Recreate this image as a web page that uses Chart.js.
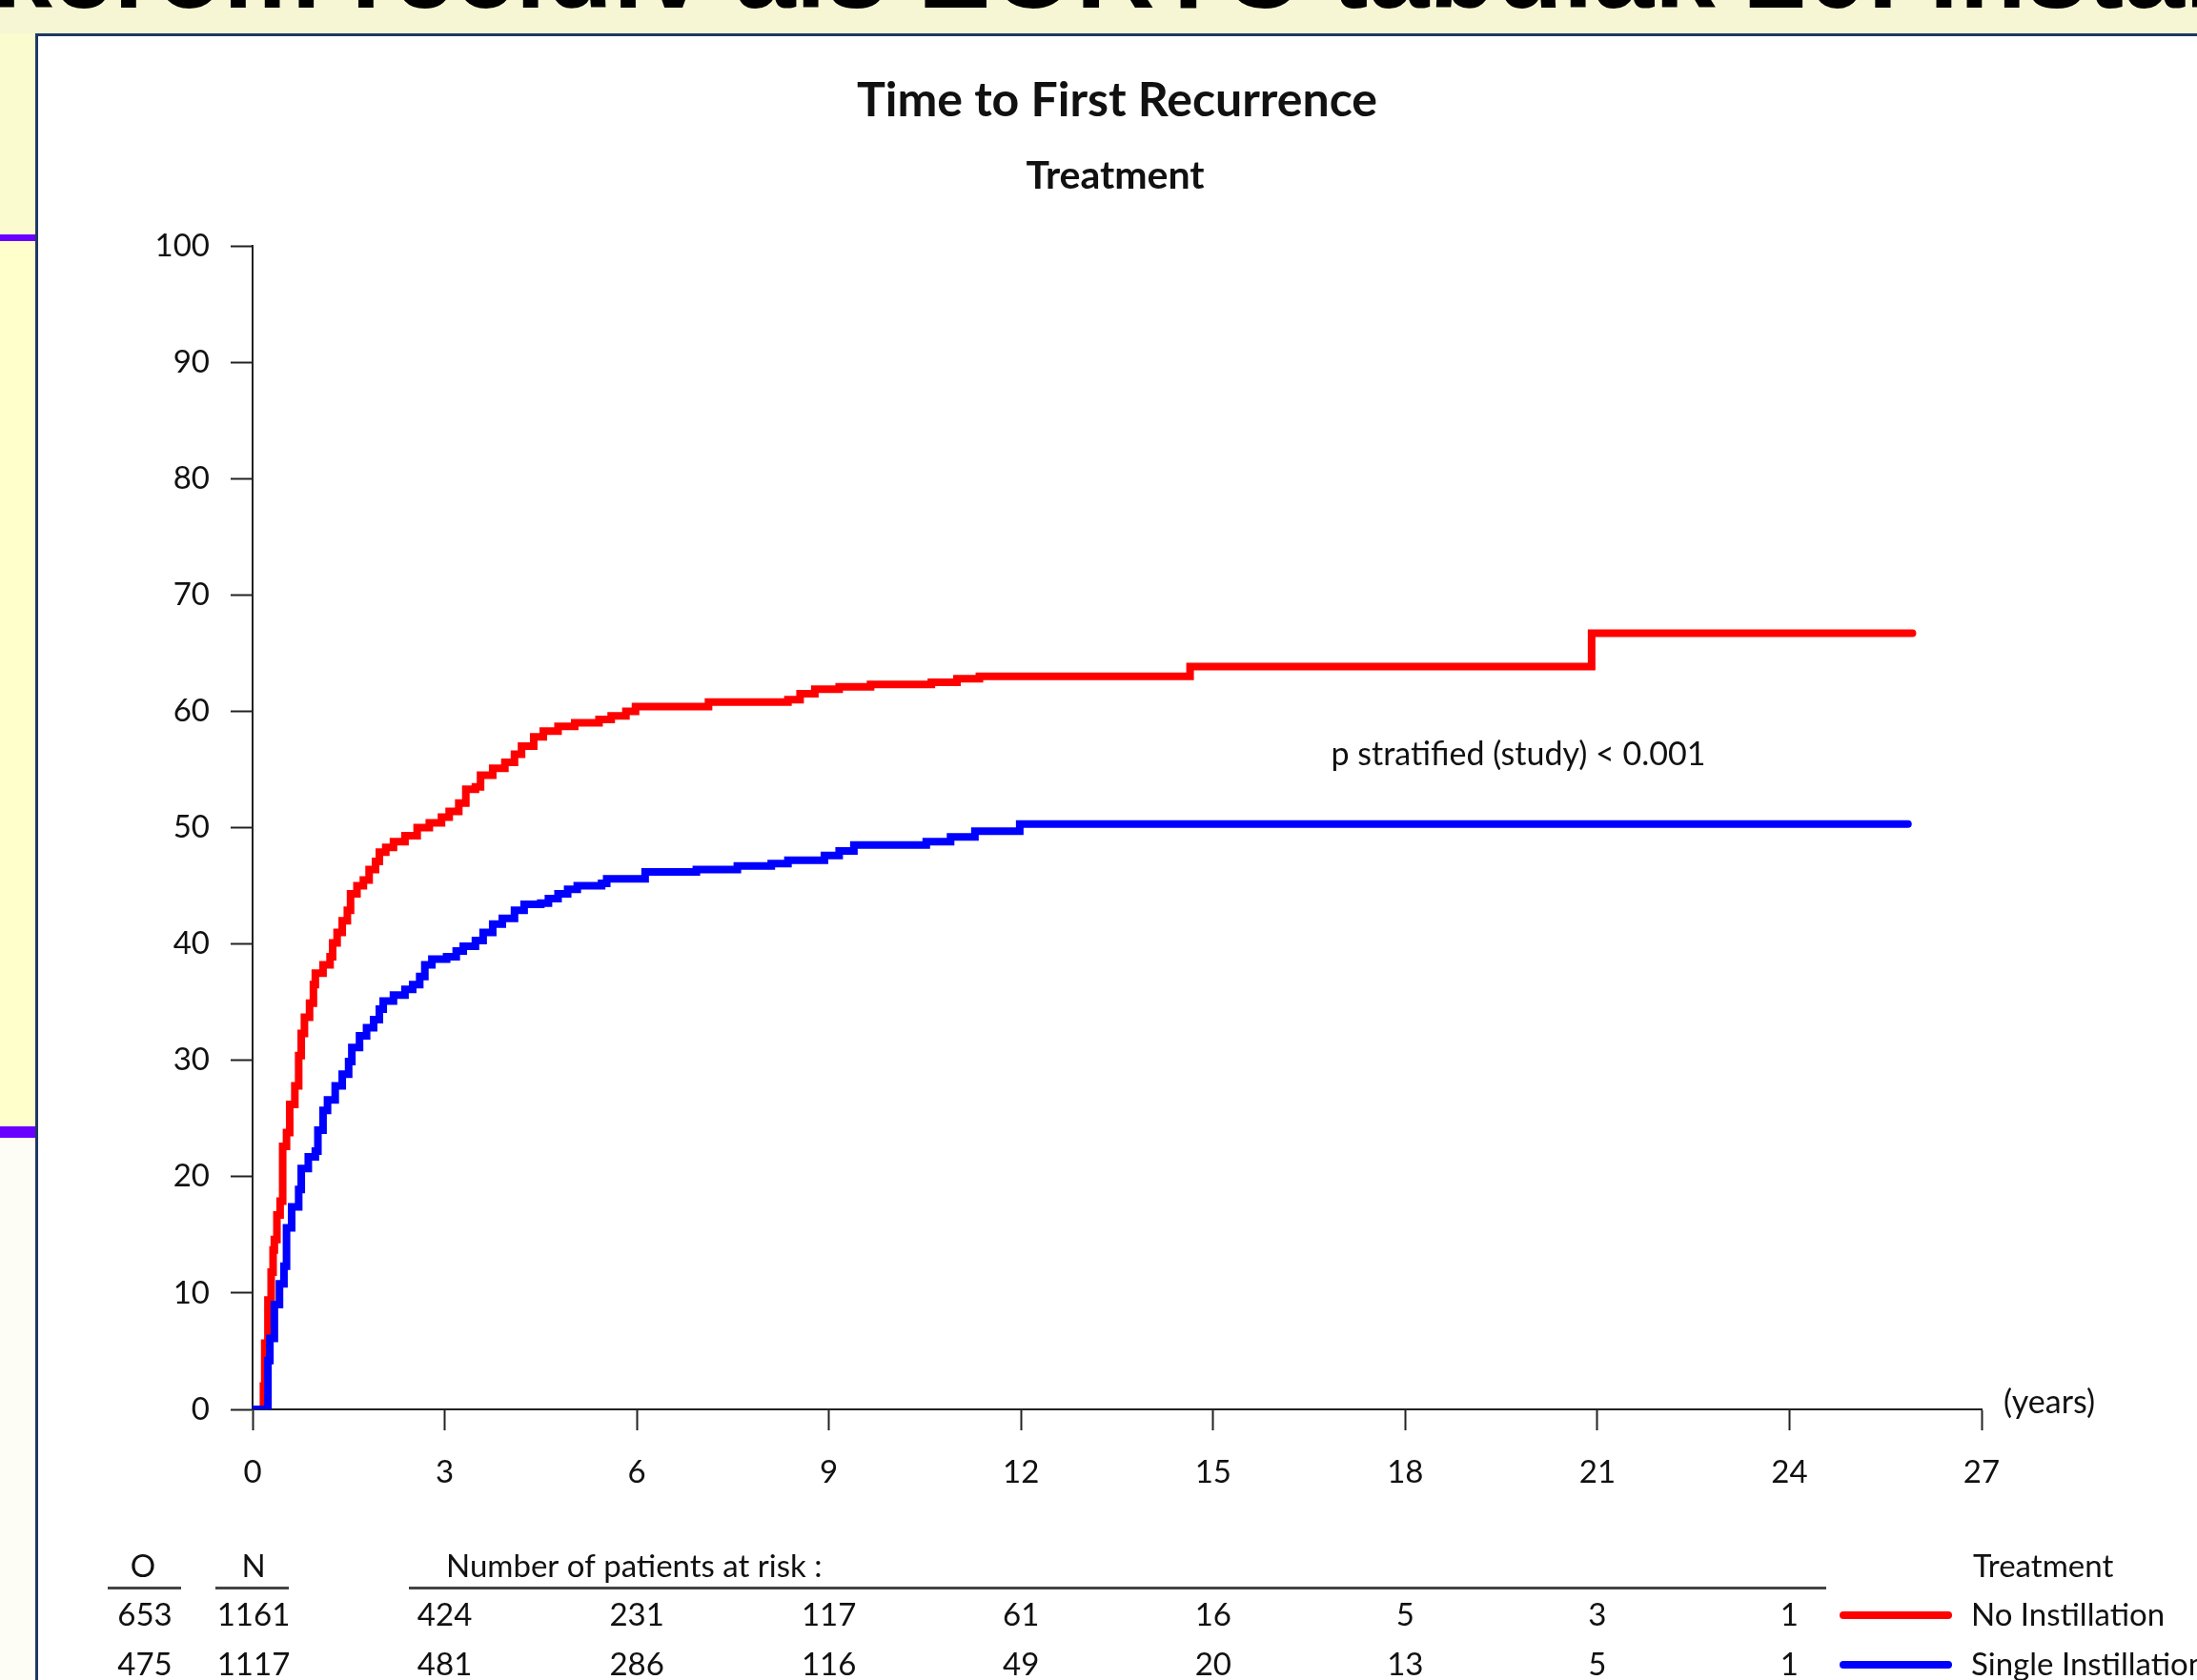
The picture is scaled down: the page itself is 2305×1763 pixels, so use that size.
<!DOCTYPE html>
<html>
<head>
<meta charset="utf-8">
<title>Time to First Recurrence</title>
<script src="https://cdn.jsdelivr.net/npm/chart.js@4.4.1/dist/chart.umd.min.js"></script>
<style>
  html, body { margin: 0; padding: 0; }
  body {
    width: 2305px; height: 1763px; overflow: hidden; position: relative;
    background: #f6f6d4; font-family: Lato, sans-serif;
  }
  .strip { position: absolute; left: 0; width: 37px; }
  #panel {
    position: absolute; left: 37px; top: 35px; width: 2400px; height: 1800px;
    background: #fff; border-left: 3px solid #1f3864; border-top: 3px solid #1f3864;
  }
  #kmChart { position: absolute; left: 0; top: 0; }
</style>
</head>
<body>
<div class="strip" style="top:35px;height:211px;background:#fbfbd0"></div>
<div class="strip" style="top:246px;height:7px;background:#6a00ff"></div>
<div class="strip" style="top:253px;height:929px;background:#ffffcc"></div>
<div class="strip" style="top:1182px;height:12px;background:#6a00ff"></div>
<div class="strip" style="top:1194px;height:569px;background:#fdfdf6"></div>
<div id="panel"></div>
<canvas id="kmChart" width="2305" height="1763"></canvas>
<script>
// Cumulative recurrence (%), years of follow-up
const noInstYears = [0, 0.17, 0.19, 0.24, 0.29, 0.32, 0.34, 0.38, 0.43, 0.47, 0.53, 0.58, 0.66, 0.72, 0.76, 0.81,
  0.89, 0.95, 0.98, 1.10, 1.21, 1.25, 1.32, 1.40, 1.48, 1.53, 1.63, 1.73, 1.82, 1.92, 1.98, 2.08, 2.20, 2.38,
  2.57, 2.76, 2.95, 3.07, 3.22, 3.33, 3.48, 3.56, 3.75, 3.94, 4.09, 4.20, 4.39, 4.54, 4.77, 5.03, 5.41, 5.60,
  5.83, 5.98, 7.12, 8.36, 8.55, 8.78, 9.16, 9.65, 10.6, 11.0, 11.35, 14.64, 20.91, 25.92];
const noInstPct = [0, 2.0, 5.7, 9.4, 11.8, 13.7, 14.6, 16.7, 17.9, 22.6, 23.8, 26.2, 27.8, 30.4, 32.3, 33.7,
  34.9, 36.5, 37.5, 38.2, 38.9, 40.1, 41.0, 42.0, 42.9, 44.3, 45.0, 45.5, 46.4, 47.1, 47.9, 48.3, 48.8, 49.3,
  50.0, 50.4, 50.9, 51.4, 52.1, 53.3, 53.5, 54.5, 55.1, 55.6, 56.3, 57.0, 57.8, 58.3, 58.7, 59.0, 59.3, 59.6,
  60.0, 60.4, 60.8, 61.0, 61.5, 61.9, 62.1, 62.3, 62.5, 62.8, 63.0, 63.85, 66.7, 66.7];

const singleInstYears = [0, 0.23, 0.24, 0.27, 0.34, 0.42, 0.49, 0.53, 0.61, 0.72, 0.76, 0.87, 0.98, 1.02, 1.10,
  1.17, 1.29, 1.40, 1.50, 1.55, 1.67, 1.78, 1.89, 1.98, 2.04, 2.20, 2.38, 2.50, 2.61, 2.69, 2.80, 3.03, 3.18,
  3.29, 3.48, 3.60, 3.75, 3.90, 4.09, 4.24, 4.50, 4.62, 4.77, 4.92, 5.07, 5.45, 5.53, 6.13, 6.93, 7.57, 8.10,
  8.36, 8.93, 9.16, 9.39, 10.52, 10.9, 11.28, 11.98, 25.85];
const singleInstPct = [0, 0, 4.2, 6.1, 9.0, 10.8, 12.3, 15.6, 17.4, 18.9, 20.7, 21.7, 22.2, 24.0, 25.7,
  26.6, 27.8, 28.8, 29.9, 31.1, 32.1, 32.8, 33.5, 34.4, 35.1, 35.6, 36.1, 36.5, 37.2, 38.2, 38.7, 38.9, 39.4,
  39.8, 40.3, 41.0, 41.7, 42.2, 42.9, 43.4, 43.5, 43.9, 44.3, 44.7, 45.0, 45.2, 45.6, 46.2, 46.4, 46.7, 46.9,
  47.2, 47.6, 48.0, 48.5, 48.8, 49.2, 49.7, 50.3, 50.3];

// Number at risk table
const groupNames = ['No Instillation', 'Single Instillation'];
const observed = [653, 475];
const totalN = [1161, 1117];
const riskYears = [3, 6, 9, 12, 15, 18, 21, 24];
const noInstAtRisk = [424, 231, 117, 61, 16, 5, 3, 1];
const singleInstAtRisk = [481, 286, 116, 49, 20, 13, 5, 1];

const toPoints = (xs, ys) => xs.map((t, i) => ({ x: t, y: ys[i] }));

const FONT = 'Lato, "Open Sans", sans-serif';

// Titles, p value and the at-risk table under the plot
const extraText = {
  id: 'extraText',
  afterDraw(chart) {
    const { ctx, scales: { x } } = chart;
    ctx.save();

    // slide heading, mostly cut off by the top of the window
    ctx.fillStyle = '#000';
    ctx.textAlign = 'left';
    ctx.textBaseline = 'alphabetic';
    ctx.font = 'bold 115px "Liberation Sans", Arial, sans-serif';
    ctx.fillText('kérom recidív als EORTC tabulák 20. instal', -9, 8);

    ctx.fillStyle = '#111';
    ctx.textAlign = 'center';
    ctx.textBaseline = 'middle';
    ctx.font = 'bold 50px ' + FONT;
    ctx.fillText('Time to First Recurrence', 1172, 106);
    ctx.font = 'bold 41px ' + FONT;
    ctx.fillText('Treatment', 1170, 185);

    ctx.font = '34px ' + FONT;
    ctx.fillText('p stratified (study) < 0.001', 1593, 792);
    ctx.textAlign = 'left';
    ctx.fillText('(years)', 2102, 1472);

    // at-risk table
    ctx.font = '33px ' + FONT;
    ctx.textAlign = 'center';
    ctx.fillText('O', 150, 1644);
    ctx.fillText('N', 266, 1644);
    ctx.textAlign = 'left';
    ctx.fillText('Number of patients at risk :', 468, 1644);
    ctx.fillText('Treatment', 2070, 1644);

    ctx.fillStyle = '#444';
    ctx.fillRect(113, 1665, 77, 3);
    ctx.fillRect(226, 1665, 77, 3);
    ctx.fillRect(429, 1665, 1487, 3);

    const rows = [noInstAtRisk, singleInstAtRisk];
    const rowY = [1695, 1747];
    rows.forEach((risk, i) => {
      const y = rowY[i];
      ctx.fillStyle = '#111';
      ctx.textAlign = 'center';
      ctx.fillText(String(observed[i]), 152, y);
      ctx.fillText(String(totalN[i]), 266, y);
      riskYears.forEach((t, j) => {
        ctx.fillText(String(risk[j]), x.getPixelForValue(t), y);
      });
      ctx.textAlign = 'left';
      ctx.fillText(groupNames[i], 2068, y);

      ctx.strokeStyle = chart.data.datasets[i].borderColor;
      ctx.lineWidth = 8;
      ctx.lineCap = 'round';
      ctx.beginPath();
      ctx.moveTo(1934, y);
      ctx.lineTo(2044, y);
      ctx.stroke();
    });
    ctx.restore();
  }
};

const draw = () => {
  new Chart(document.getElementById('kmChart'), {
    type: 'line',
    data: {
      datasets: [{
        label: groupNames[0],
        data: toPoints(noInstYears, noInstPct),
        borderColor: 'rgb(255, 0, 0)',
        borderWidth: 8,
        stepped: 'before',
        pointRadius: 0,
        borderCapStyle: 'round',
        fill: false,
        order: 1
      }, {
        label: groupNames[1],
        data: toPoints(singleInstYears, singleInstPct),
        borderColor: 'rgb(0, 0, 255)',
        borderWidth: 8,
        stepped: 'before',
        pointRadius: 0,
        borderCapStyle: 'round',
        fill: false,
        order: 0
      }]
    },
    options: {
      responsive: false,
      animation: false,
      devicePixelRatio: 1,
      layout: { padding: { left: 60, top: 258, right: 226, bottom: 200 } },
      plugins: {
        legend: { display: false },
        tooltip: { enabled: false }
      },
      scales: {
        x: {
          type: 'linear',
          min: 0,
          max: 27,
          afterFit: scale => { scale.height = 1763 - 200 - 1479; },
          ticks: { stepSize: 3, color: '#111', padding: 25, maxRotation: 0, font: { family: FONT, size: 33 } },
          grid: { drawOnChartArea: false, tickLength: 22, tickWidth: 2, color: '#222' },
          border: { color: '#222', width: 2 }
        },
        y: {
          min: 0,
          max: 100,
          afterFit: scale => { scale.width = 265 - 60; },
          ticks: { stepSize: 10, color: '#111', padding: 22, font: { family: FONT, size: 33 } },
          grid: { drawOnChartArea: false, tickLength: 23, tickWidth: 2, color: '#222' },
          border: { color: '#222', width: 2 }
        }
      }
    },
    plugins: [extraText]
  });
};

if (document.fonts && document.fonts.load) {
  Promise.all([document.fonts.load('30px Lato'), document.fonts.load('bold 44px Lato')])
    .then(draw, draw);
} else {
  draw();
}
</script>
</body>
</html>
